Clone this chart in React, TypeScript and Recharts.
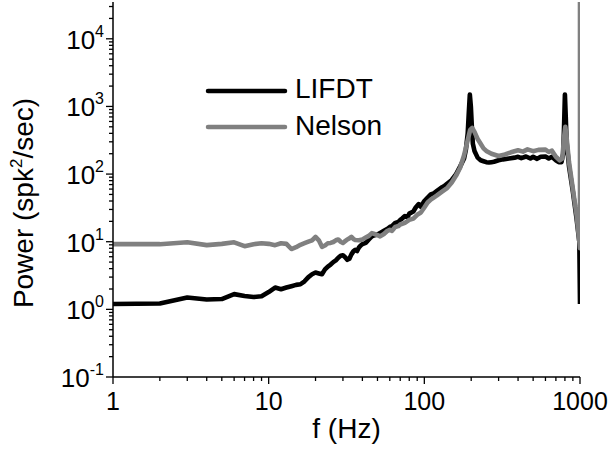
import React from "react";
import { LineChart, Line, XAxis, YAxis, Customized } from "recharts";

const FONT = "'Liberation Sans', Arial, Helvetica, sans-serif";

const seriesNames = ["LIFDT", "Nelson"];
const seriesColors = ["#000000", "#808080"];

// LIFDT spectrum (f in Hz, power in spk^2/sec)
const fLIFDT = [
  1, 2, 3, 4, 5, 6, 7, 8, 9, 10, 11, 12, 13, 14, 15, 16, 17, 18, 19, 20, 21, 22, 23, 24, 25, 26, 27, 28, 29, 30,
  31, 32, 33, 34, 35, 36, 37, 38, 39, 40, 42, 44, 46, 48, 50, 52, 55, 58, 60, 62, 65, 68, 70, 72, 75, 78, 80, 85,
  88, 90, 92, 95, 100, 105, 110, 115, 120, 125, 130, 135, 140, 150, 160, 170, 180, 185, 190, 193, 196, 199, 202,
  205, 210, 220, 230, 240, 250, 260, 270, 280, 300, 320, 350, 380, 400, 420, 450, 480, 500, 530, 560, 600, 630,
  660, 700, 730, 760, 780, 790, 800, 810, 820, 850, 900, 950, 990, 1000,
];
const pLIFDT = [
  1.2, 1.22, 1.5, 1.4, 1.42, 1.68, 1.58, 1.52, 1.56, 1.8, 2.1, 1.98, 2.1, 2.2, 2.3, 2.35, 2.6, 3.0, 3.3, 3.5, 3.4,
  3.3, 3.9, 4.3, 4.6, 5.0, 5.3, 5.8, 6.2, 6.3, 5.9, 5.4, 5.6, 6.5, 7.2, 7.6, 7.3, 8.2, 8.8, 9.2, 9.6, 10.8, 12.0,
  12.5, 12.8, 13.5, 14.5, 15.5, 16.5, 17.0, 19, 19.5, 21, 22, 24, 23, 26, 28, 32, 34, 36, 33, 40, 45, 50, 52, 56,
  60, 64, 67, 72, 82, 100, 130, 170, 230, 400, 800, 1500, 1000, 500, 280, 220, 175, 160, 155, 150, 148, 150, 152,
  160, 165, 170, 175, 180, 172, 182, 170, 180, 168, 180, 182, 170, 180, 160, 150, 150, 200, 500, 1500, 700, 300,
  130, 55, 22, 10, 1.2,
];

// Nelson spectrum
const fNelson = [
  1, 2, 3, 4, 5, 6, 7, 8, 9, 10, 11, 12, 13, 14, 15, 16, 17, 18, 19, 20, 21, 22, 23, 24, 25, 26, 27, 28, 29, 30,
  31, 32, 33, 34, 35, 36, 38, 40, 42, 44, 46, 48, 50, 52, 55, 58, 60, 62, 65, 68, 70, 75, 80, 85, 90, 95, 100, 105,
  110, 115, 120, 130, 140, 150, 160, 170, 180, 190, 197, 203, 210, 220, 230, 240, 250, 270, 300, 330, 360, 400,
  430, 460, 500, 540, 600, 630, 660, 700, 740, 770, 790, 805, 820, 850, 900, 950, 1000, 1000,
];
const pNelson = [
  9.2, 9.2, 9.8, 8.9, 9.3, 9.8, 8.6, 9.2, 9.5, 9.3, 8.9, 9.5, 9.3, 7.8, 8.3, 9.0, 9.5, 10.0, 10.5, 11.8, 10.5, 8.4,
  8.8, 9.5, 9.6, 9.9, 10.5, 10.8, 10.0, 9.6, 10.2, 10.8, 11.2, 11.8, 11.0, 10.6, 10.5, 10.8, 11.5, 12.2, 13.4,
  13.0, 12.5, 12.0, 13, 14.5, 15.0, 14.5, 16.5, 17, 18, 19, 21, 22, 25, 27, 32, 38, 42, 45, 48, 55, 62, 75, 95,
  125, 190, 320, 450, 480, 420, 330, 280, 240, 220, 200, 185, 195, 210, 225, 215, 232, 218, 228, 230, 212, 222,
  180, 160, 170, 350, 500, 350, 150, 60, 25, 8, 35000,
];

const xTicks = [
  1, 2, 3, 4, 5, 6, 7, 8, 9, 10, 20, 30, 40, 50, 60, 70, 80, 90, 100, 200, 300, 400, 500, 600, 700, 800, 900, 1000,
];
const yTicks = [
  0.1, 0.2, 0.3, 0.4, 0.5, 0.6, 0.7, 0.8, 0.9, 1, 2, 3, 4, 5, 6, 7, 8, 9, 10, 20, 30, 40, 50, 60, 70, 80, 90, 100,
  200, 300, 400, 500, 600, 700, 800, 900, 1000, 2000, 3000, 4000, 5000, 6000, 7000, 8000, 9000, 10000, 20000,
  30000,
];

const dataLIFDT = fLIFDT.map((f, i) => ({ f, p: pLIFDT[i] }));
const dataNelson = fNelson.map((f, i) => ({ f, p: pNelson[i] }));

const isMajor = (v: number) => {
  const l = Math.log10(v);
  return Math.abs(l - Math.round(l)) < 1e-6;
};

const XTick = (props: any) => {
  const { x, y, payload } = props;
  const v = payload.value;
  const major = isMajor(v);
  return (
    <g>
      <line x1={x} y1={y} x2={x} y2={y + (major ? 7 : 4)} stroke="#000" strokeWidth={1.3} />
      {major && (
        <text x={x} y={y + 33} textAnchor="middle" fontSize={25} fontFamily={FONT} fill="#000">
          {v}
        </text>
      )}
    </g>
  );
};

const YTick = (props: any) => {
  const { x, y, payload } = props;
  const v = payload.value;
  const major = isMajor(v);
  const e = Math.round(Math.log10(v));
  return (
    <g>
      <line x1={x - (major ? 7 : 4)} y1={y} x2={x} y2={y} stroke="#000" strokeWidth={1.3} />
      {major && (
        <text x={x - 9} y={y + 10} textAnchor="end" fontSize={26} fontFamily={FONT} fill="#000">
          10
          <tspan dy={-12} fontSize={16}>
            {String(e)}
          </tspan>
        </text>
      )}
    </g>
  );
};

const LegendSvg = () => (
  <g>
    {seriesNames.map((name, i) => (
      <g key={name}>
        <line x1={208} y1={91 + i * 36} x2={285} y2={91 + i * 36} stroke={seriesColors[i]} strokeWidth={4.5} strokeLinecap="round" />
        <text x={295} y={98 + i * 37} fontSize={28} fontFamily={FONT} fill="#000">
          {name}
        </text>
      </g>
    ))}
  </g>
);

const XLabel = (props: any) => {
  const { viewBox } = props;
  return (
    <text x={viewBox.x + viewBox.width / 2} y={viewBox.y + 61} textAnchor="middle" fontSize={28} fontFamily={FONT} fill="#000">
      f (Hz)
    </text>
  );
};

const YLabel = () => (
  <text x={33} y={203} transform="rotate(-90 33 203)" textAnchor="middle" fontSize={28} fontFamily={FONT} fill="#000">
    Power (spk
    <tspan dy={-11} fontSize={17}>
      2
    </tspan>
    <tspan dy={11}>/sec)</tspan>
  </text>
);

export default function App() {
  return (
    <div style={{ position: "absolute", left: 0, top: 0, width: 610, height: 454, background: "#fff" }}>
      <LineChart width={610} height={454} margin={{ top: 2, right: 30, left: 0, bottom: 0 }}>
        <XAxis
          dataKey="f"
          type="number"
          scale="log"
          domain={[1, 1000]}
          ticks={xTicks}
          interval={0}
          allowDataOverflow
          height={77}
          tickSize={0}
          tickMargin={0}
          tickLine={false}
          tick={<XTick />}
          axisLine={{ stroke: "#000", strokeWidth: 1.5 }}
          label={<XLabel />}
        />
        <YAxis
          dataKey="p"
          type="number"
          scale="log"
          domain={[0.1, 35000]}
          ticks={yTicks}
          interval={0}
          allowDataOverflow
          width={113}
          tickSize={0}
          tickMargin={0}
          tickLine={false}
          tick={<YTick />}
          axisLine={{ stroke: "#000", strokeWidth: 1.5 }}
        />
        <Line
          data={dataLIFDT}
          dataKey="p"
          stroke={seriesColors[0]}
          strokeWidth={4.6}
          dot={false}
          strokeLinejoin="round"
          isAnimationActive={false}
        />
        <Line
          data={dataNelson}
          dataKey="p"
          stroke={seriesColors[1]}
          strokeWidth={4.6}
          dot={false}
          strokeLinejoin="round"
          isAnimationActive={false}
        />
        <Customized component={LegendSvg} />
        <Customized component={YLabel} />
      </LineChart>
    </div>
  );
}
